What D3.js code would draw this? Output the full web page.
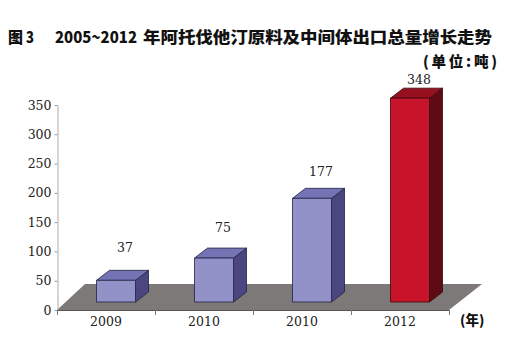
<!DOCTYPE html>
<html><head><meta charset="utf-8">
<script src="https://cdn.jsdelivr.net/npm/d3@7"></script>
<style>body{margin:0;background:#fff}svg{display:block}</style>
</head><body><svg id="c" width="506" height="353"></svg>
<script>
const categories = ["2009", "2010", "2010", "2012"];
const values = [37, 75, 177, 348];
const yTicks = [0, 50, 100, 150, 200, 250, 300, 350];
const highlight = [false, false, false, true];
const titleParts = ["图", "3", "2005~2012", "年阿托伐他汀原料及中间体出口总量增长走势"];
const unitLabel = "(单位:吨)";
const xUnitLabel = "(年)";

const svg = d3.select("#c");
const y = d3.scaleLinear().domain([0, 350]).range([310, 105]);
const yLab = d3.scaleLinear().domain([0, 350]).range([268, 78]);
const x = d3.scaleBand().domain(d3.range(categories.length)).range([57, 449]);

const serif = "'DejaVu Serif', serif";
const cjk = "'Noto Sans CJK SC', sans-serif";

// title
const tpos = [[8, 15], [26, 8], [55, 82], [143, 349]];
titleParts.forEach((t, i) => {
  svg.append("text").attr("x", tpos[i][0]).attr("y", 35.5)
    .attr("dominant-baseline", "central")
    .attr("font-family", cjk).attr("font-weight", 900).attr("font-size", 15.5)
    .attr("textLength", tpos[i][1]).attr("lengthAdjust", "spacingAndGlyphs")
    .attr("fill", "#111").text(t);
});
svg.append("text").attr("x", 423).attr("y", 60).attr("dominant-baseline", "central")
  .attr("font-family", cjk).attr("font-weight", 900).attr("font-size", 14.5)
  .attr("textLength", 74).attr("lengthAdjust", "spacing").attr("fill", "#111").text(unitLabel);

// floor
const y0 = y(0);
const floorPts = [[x.range()[0], y0], [x.range()[1], y0], [x.range()[1] + 33, y0 - 26], [x.range()[0] + 28, y0 - 26]];
svg.append("polygon").attr("points", floorPts.map(p => p.join(",")).join(" "))
  .attr("fill", "#7e7979");

// y axis
const ya = svg.append("g").attr("transform", "translate(57.5,0)")
  .call(d3.axisLeft(y).tickValues(yTicks).tickSize(3).tickSizeOuter(0).tickPadding(3));
ya.select(".domain").attr("stroke", "#aaa");
ya.selectAll(".tick line").attr("stroke", "#999");
ya.selectAll(".tick text").attr("font-family", serif).attr("font-size", 12.5).attr("fill", "#222");

// x axis (front edge)
svg.append("line").attr("x1", x.range()[0]).attr("x2", x.range()[1])
  .attr("y1", y0 + 0.5).attr("y2", y0 + 0.5).attr("stroke", "#555").attr("stroke-width", 1.2);
const bounds = d3.range(categories.length + 1).map(i => x.range()[0] + i * x.step());
svg.selectAll(".xt").data(bounds).enter().append("line")
  .attr("x1", d => d + 0.5).attr("x2", d => d + 0.5)
  .attr("y1", y0).attr("y2", y0 + 5).attr("stroke", "#777");
svg.selectAll(".xl").data(categories).enter().append("text")
  .attr("x", (d, i) => x(i) + x.bandwidth() / 2).attr("y", 321)
  .attr("text-anchor", "middle").attr("dominant-baseline", "central")
  .attr("font-family", serif).attr("font-size", 12.5).attr("fill", "#222").text(d => d);
svg.append("text").attr("x", 460).attr("y", 319).attr("dominant-baseline", "central")
  .attr("font-family", cjk).attr("font-weight", 900).attr("font-size", 13.5)
  .attr("fill", "#111").text(xUnitLabel);

// bars
const lift = 8, bw = 39, dx = 13, dy = 10;
const pal = {
  blue: {front: "#9292c9", top: "#7474b4", side: "#4b4580", stroke: "#222244"},
  red: {front: "#c8142a", top: "#97101f", side: "#5e0b16", stroke: "#3a0508"}
};
values.forEach((v, i) => {
  const c = highlight[i] ? pal.red : pal.blue;
  const xl = x(i) + x.bandwidth() / 2 + 10 - bw / 2, xr = xl + bw;
  const yb = y(0) - lift, yt = y(v) - lift;
  const g = svg.append("g").attr("stroke", c.stroke).attr("stroke-width", 0.8).attr("stroke-linejoin", "round");
  g.append("polygon").attr("points", [[xr, yb], [xr + dx, yb - dy], [xr + dx, yt - dy], [xr, yt]].map(p => p.join(",")).join(" "))
    .attr("fill", c.side);
  g.append("polygon").attr("points", [[xl, yt], [xr, yt], [xr + dx, yt - dy], [xl + dx, yt - dy]].map(p => p.join(",")).join(" "))
    .attr("fill", c.top);
  g.append("rect").attr("x", xl).attr("y", yt).attr("width", bw).attr("height", yb - yt).attr("fill", c.front);
  svg.append("text").attr("x", xl + bw / 2 + 9).attr("y", yLab(v))
    .attr("text-anchor", "middle").attr("dominant-baseline", "central")
    .attr("font-family", serif).attr("font-size", 12.5).attr("fill", "#222").text(v);
});
</script></body></html>
